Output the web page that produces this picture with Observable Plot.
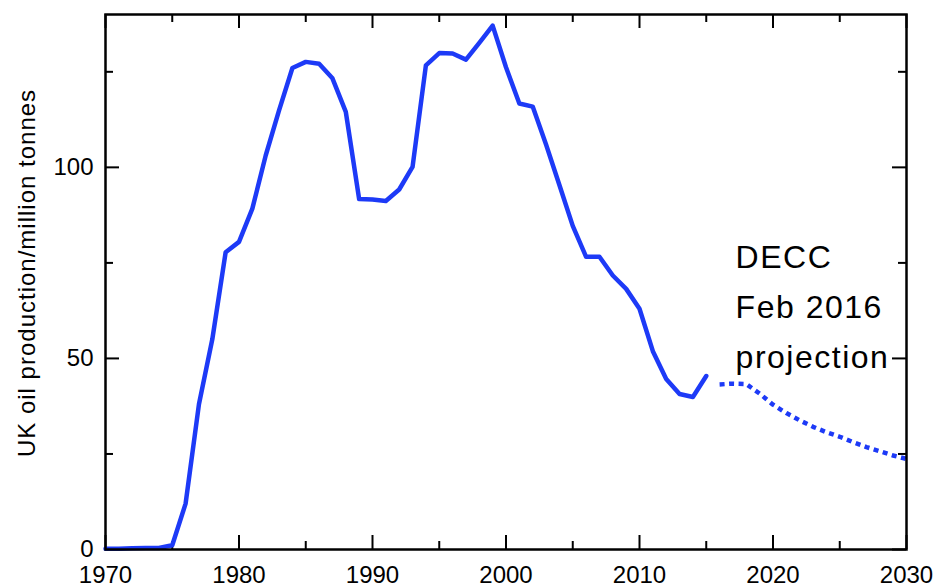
<!DOCTYPE html>
<html>
<head>
<meta charset="utf-8">
<script src="https://cdn.jsdelivr.net/npm/d3@7"></script>
<script src="https://cdn.jsdelivr.net/npm/@observablehq/plot@0.6"></script>
<style>
  body { margin: 0; background: #fff; }
  #chart { width: 935px; height: 584px; }
</style>
</head>
<body>
<div id="chart"></div>
<script>
// ---- Data ----
const years = [1970,1971,1972,1973,1974,1975,1976,1977,1978,1979,1980,1981,1982,1983,1984,1985,1986,1987,1988,1989,1990,1991,1992,1993,1994,1995,1996,1997,1998,1999,2000,2001,2002,2003,2004,2005,2006,2007,2008,2009,2010,2011,2012,2013,2014,2015];
const production = [0.2,0.2,0.3,0.4,0.4,1.1,12,38,55,77.8,80.5,89.2,103.1,114.9,126,127.6,127.1,123.3,114.5,91.7,91.6,91.2,94.2,100.1,126.7,129.9,129.8,128.2,132.6,137.1,126.2,116.7,115.9,106,95.4,84.7,76.6,76.6,71.7,68.2,63,51.9,44.6,40.7,39.9,45.4];
const projYears = [2016,2017,2018,2019,2020,2021,2022,2023,2024,2025,2026,2027,2028,2029,2030];
const projection = [43.2,43.4,43.3,40.8,37.9,35.7,33.8,32.1,30.7,29.5,28.1,26.8,25.7,24.6,23.7];

const xTicks = [1970,1980,1990,2000,2010,2020,2030];
const xMinorTicks = [1975,1985,1995,2005,2015,2025];
const yTicks = [0,50,100];
const yMinorTicks = [25,75,125];
const xTickLabels = ["1970","1980","1990","2000","2010","2020","2030"];
const yTickLabels = ["0","50","100"];

const yLabel = "UK oil production/million tonnes";
const annotation = "DECC\nFeb 2016\nprojection";
const annotationYear = [2017.2];
const annotationValue = [47.5];

// ---- Build tables ----
const prodData = years.map((year, i) => ({year, value: production[i]}));
const projData = projYears.map((year, i) => ({year, value: projection[i]}));
const xLabelData = xTicks.map((v, i) => ({v, label: xTickLabels[i]}));
const yLabelData = yTicks.map((v, i) => ({v, label: yTickLabels[i]}));

const W = 935, H = 584;
const mL = 105, mR = 29, mT = 14, mB = 35;
const innerW = W - mL - mR, innerH = H - mT - mB;
const blue = "#1d3af7";
const major = 14, minor = 8;

const chart = Plot.plot({
  width: W,
  height: H,
  marginLeft: mL,
  marginRight: mR,
  marginTop: mT,
  marginBottom: mB,
  style: {fontFamily: "'Liberation Sans', Arial, Helvetica, sans-serif", fontSize: "24px", color: "#000", background: "#fff"},
  x: {domain: [1970, 2030], label: null, axis: null},
  y: {domain: [0, 140], label: null, axis: null},
  marks: [
    // tick labels
    Plot.text(xLabelData, {x: "v", text: "label", frameAnchor: "bottom", lineAnchor: "top", dy: 16, fontSize: 24, fill: "#000"}),
    Plot.text(yLabelData, {y: "v", text: "label", frameAnchor: "left", textAnchor: "end", lineAnchor: "middle", dx: -12, fontSize: 24, fill: "#000"}),
    // inward ticks bottom/top
    Plot.ruleX(xTicks, {insetTop: innerH - major, stroke: "#000", strokeWidth: 2}),
    Plot.ruleX(xMinorTicks, {insetTop: innerH - minor, stroke: "#000", strokeWidth: 2}),
    Plot.ruleX(xTicks, {insetBottom: innerH - major, stroke: "#000", strokeWidth: 2}),
    Plot.ruleX(xMinorTicks, {insetBottom: innerH - minor, stroke: "#000", strokeWidth: 2}),
    // inward ticks left/right
    Plot.ruleY(yTicks, {insetRight: innerW - major, stroke: "#000", strokeWidth: 2}),
    Plot.ruleY(yMinorTicks, {insetRight: innerW - minor, stroke: "#000", strokeWidth: 2}),
    Plot.ruleY(yTicks, {insetLeft: innerW - major, stroke: "#000", strokeWidth: 2}),
    Plot.ruleY(yMinorTicks, {insetLeft: innerW - minor, stroke: "#000", strokeWidth: 2}),
    // data
    Plot.line(prodData, {x: "year", y: "value", stroke: blue, strokeWidth: 4.5, strokeLinejoin: "round"}),
    Plot.line(projData, {x: "year", y: "value", stroke: blue, strokeWidth: 4.5, strokeDasharray: "5,4.5", strokeLinecap: "butt", strokeLinejoin: "miter"}),
    // annotation
    Plot.text([annotation], {x: annotationYear, y: annotationValue, text: d => d, textAnchor: "start", lineAnchor: "bottom", lineHeight: 1.5625, fontSize: 32, fill: "#000"}),
    // y axis title
    Plot.text([yLabel], {frameAnchor: "left", dx: -78, dy: -9, rotate: -90, text: d => d, fontSize: 24, fill: "#000", lineAnchor: "middle", textAnchor: "middle"}),
    Plot.frame({stroke: "#000", strokeWidth: 2.5})
  ]
});

d3.select(chart).selectAll("text").each(function () {
  const t = this.textContent;
  if (t.indexOf("DECC") === 0) this.setAttribute("letter-spacing", "1.5");
  else if (t === yLabel) this.setAttribute("letter-spacing", "1");
});

document.getElementById("chart").appendChild(chart);
</script>
</body>
</html>
